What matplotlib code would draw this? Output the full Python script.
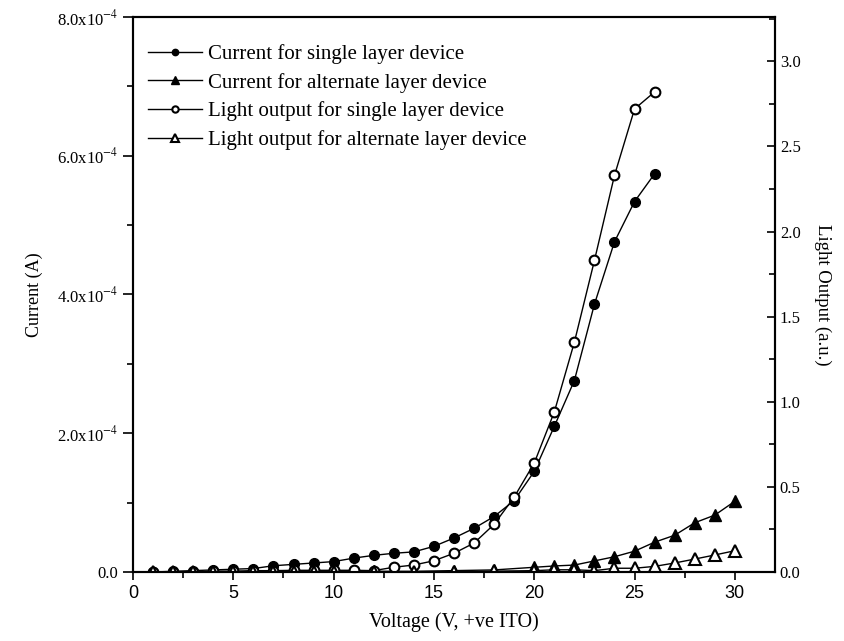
import numpy as np
import matplotlib
matplotlib.use('Agg')
import matplotlib.pyplot as plt
from matplotlib.ticker import MultipleLocator, FuncFormatter

plt.rcParams['font.family'] = ['Liberation Serif', 'DejaVu Serif']
plt.rcParams['mathtext.fontset'] = 'stix'

# single layer device, 1 V steps
volt_single = [1, 2, 3, 4, 5, 6, 7, 8, 9, 10, 11, 12, 13, 14, 15, 16, 17, 18, 19, 20,
               21, 22, 23, 24, 25, 26]
cur_single = [0.0, 1e-6, 2e-6, 3e-6, 4e-6, 5e-6, 9e-6, 1.1e-5, 1.3e-5, 1.5e-5,
              2.0e-5, 2.4e-5, 2.7e-5, 2.9e-5, 3.7e-5, 4.9e-5, 6.3e-5, 8.0e-5, 1.03e-4,
              1.45e-4, 2.10e-4, 2.76e-4, 3.86e-4, 4.76e-4, 5.34e-4, 5.74e-4]
light_single = [0.0, 0.0, 0.0, 0.005, 0.005, 0.008, 0.008, 0.01, 0.01, 0.01, 0.01, 0.008,
                0.028, 0.041, 0.066, 0.11, 0.17, 0.28, 0.44, 0.64, 0.94, 1.35, 1.83,
                2.33, 2.72, 2.82]

# alternate layer device
volt_alt = [1, 2, 3, 4, 5, 6, 7, 8, 9, 10, 12, 14, 16, 18, 20, 21, 22, 23, 24, 25,
            26, 27, 28, 29, 30]
cur_alt = [0, 0, 0, 0, 0, 0, 0, 1e-6, 1e-6, 1e-6, 1e-6, 1e-6, 2e-6, 3e-6,
           6.8e-6, 8.7e-6, 1.0e-5, 1.6e-5, 2.2e-5, 3.0e-5, 4.3e-5, 5.3e-5, 7.1e-5,
           8.2e-5, 1.02e-4]
light_alt = [0, 0, 0, 0, 0, 0, 0, 0, 0, 0, 0, 0, 0, 0.005,
             0.008, 0.013, 0.013, 0.008, 0.022, 0.022, 0.033, 0.053, 0.076, 0.1, 0.125]

labels = ['Current for single layer device',
          'Current for alternate layer device',
          'Light output for single layer device',
          'Light output for alternate layer device']

fig = plt.figure(figsize=(8.45, 6.41), dpi=100)
ax1 = fig.add_axes([133 / 845, 69 / 641, 642 / 845, 555 / 641])
ax2 = ax1.twinx()

l1, = ax1.plot(volt_single, cur_single, '-', color='k', lw=1.0, marker='o', ms=7,
               mfc='k', mec='k')
l2, = ax1.plot(volt_alt, cur_alt, '-', color='k', lw=1.0, marker='^', ms=8,
               mfc='k', mec='k')
l3, = ax2.plot(volt_single, light_single, '-', color='k', lw=1.0, marker='o', ms=7,
               mfc='white', mec='k', mew=1.5)
l4, = ax2.plot(volt_alt, light_alt, '-', color='k', lw=1.0, marker='^', ms=8,
               mfc='white', mec='k', mew=1.5)

ax1.set_xlim(0, 32)
ax1.set_ylim(0, 8e-4)
ax2.set_ylim(0, 3.26)

ax1.xaxis.set_major_locator(MultipleLocator(5))
ax1.xaxis.set_minor_locator(MultipleLocator(2.5))
ax1.yaxis.set_major_locator(MultipleLocator(2e-4))
ax1.yaxis.set_minor_locator(MultipleLocator(1e-4))
ax2.yaxis.set_major_locator(MultipleLocator(0.5))
ax2.yaxis.set_minor_locator(MultipleLocator(0.25))


def cur_fmt(v, pos):
    if v == 0:
        return '0.0'
    return r'%.1fx10$^{-4}$' % (v * 1e4)


ax1.yaxis.set_major_formatter(FuncFormatter(cur_fmt))
ax2.yaxis.set_major_formatter(FuncFormatter(lambda v, p: '%.1f' % v))

ax1.tick_params(axis='y', which='both', direction='out', right=False, labelsize=12)
ax1.tick_params(axis='y', which='major', length=7, width=1.2)
ax1.tick_params(axis='y', which='minor', length=4, width=1.2)
ax1.tick_params(axis='x', which='both', direction='out', top=False, width=1.2)
ax1.tick_params(axis='x', which='major', length=6, labelsize=13)
ax1.tick_params(axis='x', which='minor', length=4)
for t in ax1.get_xticklabels():
    t.set_family('Liberation Sans')
ax2.tick_params(axis='y', which='both', direction='in', labelsize=12, width=1.2)
ax2.tick_params(axis='y', which='major', length=6)
ax2.tick_params(axis='y', which='minor', length=4)

for ax in (ax1, ax2):
    for s in ax.spines.values():
        s.set_linewidth(1.5)

ax1.set_xlabel('Voltage (V, +ve ITO)', fontsize=14.5, labelpad=7)
ax1.set_ylabel('Current (A)', fontsize=13, labelpad=10)
ax2.set_ylabel('Light Output (a.u.)', fontsize=13.5, rotation=-90, labelpad=22)

ax2.legend([l1, l2, l3, l4], labels, loc='upper left', frameon=False, fontsize=15,
           handlelength=2.6, handletextpad=0.3, labelspacing=0.42, markerscale=0.65,
           bbox_to_anchor=(-0.006, 0.985), borderaxespad=0.5)

fig.savefig('out.png', dpi=100)
